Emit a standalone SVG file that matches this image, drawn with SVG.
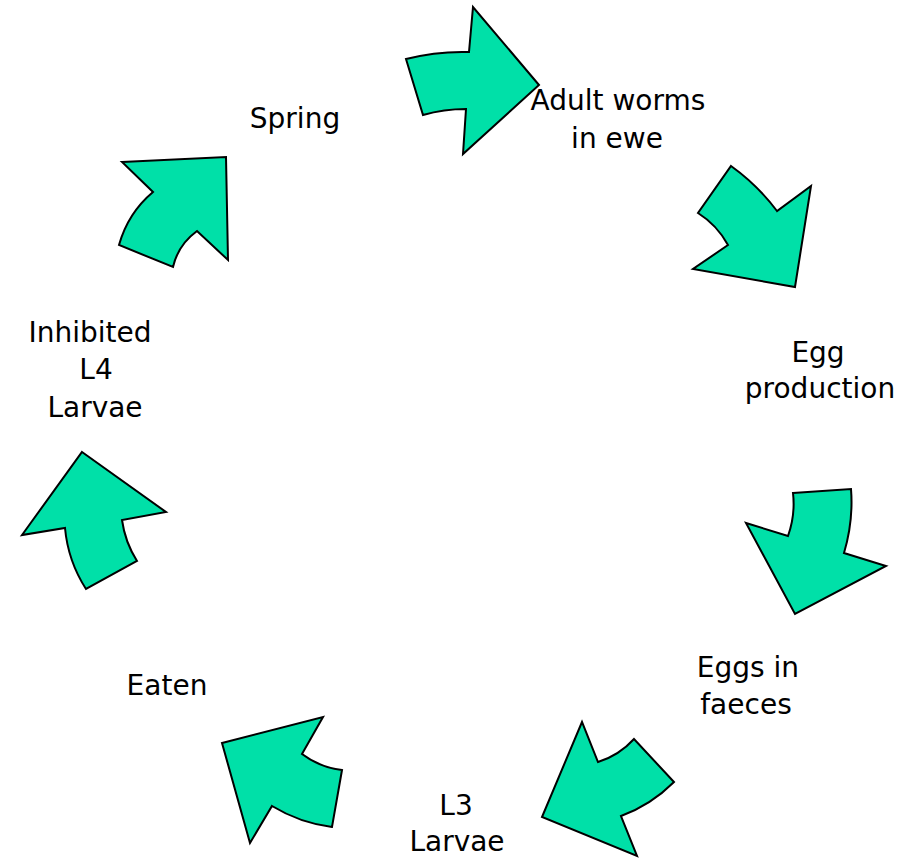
<svg xmlns="http://www.w3.org/2000/svg" width="913" height="858" viewBox="0 0 913 858">
<style>
.arr{fill:#00E0A8;stroke:#000;stroke-width:2;stroke-linejoin:miter}
.lbl{font-family:"DejaVu Sans","Liberation Sans",sans-serif;font-size:28px;fill:#000;text-anchor:middle}
</style>
<rect width="913" height="858" fill="#fff"/>
<g id="connectors">
<path class="arr" d="M406,59 Q437,51 469,52 L473,7 L539,85 L463,154 L466,109 Q444,109 423,115 Z"/>
<path class="arr" d="M731,166 Q757.5,185 777,211 L811,186 L795,287 L693,269 L728,245 Q717,225 698,213 Z"/>
<path class="arr" d="M793,493 L851,489 Q853.5,521 844,553 L886,566 L795,614 L746,523 L788,536 Q795.5,515 793,493 Z"/>
<path class="arr" d="M598,762 Q619,755.5 634,739 L674,782 Q651,805 621,816 L637,856 L542,817 L582,722 Z"/>
<path class="arr" d="M222,743 L323,717 L302,754 Q320,767.5 342,770 L332,827 Q300,823 272,806 L250,843 Z"/>
<path class="arr" d="M82,452 L166,512 L122,520 Q125,542 137,561 L86,589 Q68,561 65,528 L22,535 Z"/>
<path class="arr" d="M122,162 L226,157 L228,260 L197,231 Q178,245 173,267 L119,245 Q128,213 153,192 Z"/>
</g>
<g id="spring"><text class="lbl" x="295" y="128">Spring</text></g>
<g id="adult-worms"><text class="lbl" x="618" y="110">Adult worms</text><text class="lbl" x="617" y="148">in ewe</text></g>
<g id="egg-production"><text class="lbl" x="818" y="362">Egg</text><text class="lbl" x="820" y="398">production</text></g>
<g id="eggs-in-faeces"><text class="lbl" x="748" y="677">Eggs in</text><text class="lbl" x="746" y="714">faeces</text></g>
<g id="l3-larvae"><text class="lbl" x="456" y="815">L3</text><text class="lbl" x="457" y="851">Larvae</text></g>
<g id="eaten"><text class="lbl" x="167" y="695">Eaten</text></g>
<g id="inhibited-l4"><text class="lbl" x="90" y="342">Inhibited</text><text class="lbl" x="96" y="379">L4</text><text class="lbl" x="95" y="417">Larvae</text></g>
</svg>
